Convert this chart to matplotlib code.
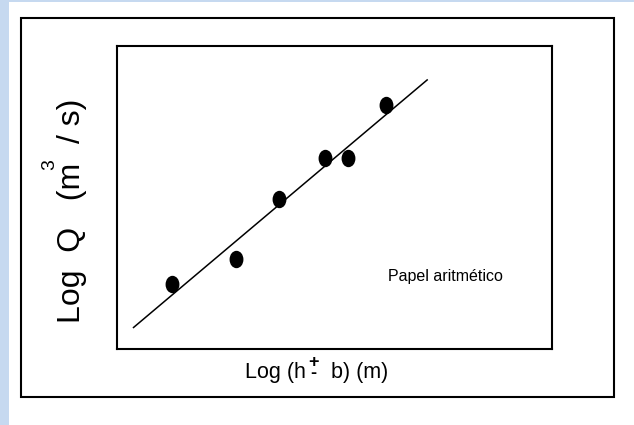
import matplotlib.pyplot as plt
import numpy as np
from matplotlib.patches import Rectangle
from matplotlib.path import Path

# measured points (arbitrary units on the plotting paper)
log_h = [1.26, 2.73, 3.72, 4.78, 5.32, 6.18]
log_q = [2.14, 2.96, 4.96, 6.31, 6.31, 8.06]
# fitted line end points
fit_x = [0.38, 7.13]
fit_y = [0.71, 8.88]

plt.rcParams['font.family'] = ['Liberation Sans', 'DejaVu Sans']

W, H = 634, 425
fig = plt.figure(figsize=(W / 100, H / 100), dpi=100)
fig.patch.set_facecolor('#c6d9f0')


def fx(px):
    return px / W


def fy(py):
    return 1 - py / H


# white sheet and the outer frame
fig.patches.append(Rectangle((fx(9), 0), 1 - fx(9), fy(2), transform=fig.transFigure,
                             facecolor='white', edgecolor='none', zorder=-2))
fig.patches.append(Rectangle((fx(21), fy(397)), fx(614) - fx(21), fy(18) - fy(397),
                             transform=fig.transFigure, facecolor='none',
                             edgecolor='black', lw=1.5, zorder=-1))

ax = fig.add_axes([fx(117), fy(349), fx(552) - fx(117), fy(46) - fy(349)])
ax.set_xlim(0, 10)
ax.set_ylim(0, 10)
ax.set_xticks([])
ax.set_yticks([])
for s in ax.spines.values():
    s.set_linewidth(1.5)

# dots a bit taller than wide
circ = Path.unit_circle()
dot = Path(circ.vertices * np.array([0.78, 1.0]), circ.codes)

ax.plot(fit_x, fit_y, color='black', lw=1.1)
ax.plot(log_h, log_q, linestyle='none', marker=dot, markersize=11.5,
        color='black')

fig.text(fx(503), fy(277), 'Papel aritmético', ha='right', va='center',
         fontsize=11.5)

# x label: Log (h ± b) (m), plus stacked above the minus
fig.canvas.draw()
r = fig.canvas.get_renderer()
xs = 15.5
base = fy(378)
t1 = fig.text(fx(245), base, 'Log (h', fontsize=xs, ha='left', va='baseline')
x1 = t1.get_window_extent(r).x1 / W + 0.004
t2 = fig.text(x1, base, '+\n-', fontsize=13, ha='left', va='baseline',
              ma='center', linespacing=0.55, fontweight='bold')
bb2 = t2.get_window_extent(r)
fig.text(bb2.x1 / W, base, '  b) (m)', fontsize=xs, ha='left', va='baseline')

# y label: Log Q (m^3 / s), rotated
ys = 23
fig.text(fx(72), fy(323), 'Log  Q   (m', fontsize=ys, rotation=90,
         ha='center', va='bottom')
fig.text(fx(72), fy(99), '/ s)', fontsize=ys, rotation=90,
         ha='center', va='top')
fig.text(fx(50), fy(165), '3', fontsize=14, rotation=90,
         ha='center', va='center')

fig.savefig('out.png', dpi=100, facecolor=fig.get_facecolor())
